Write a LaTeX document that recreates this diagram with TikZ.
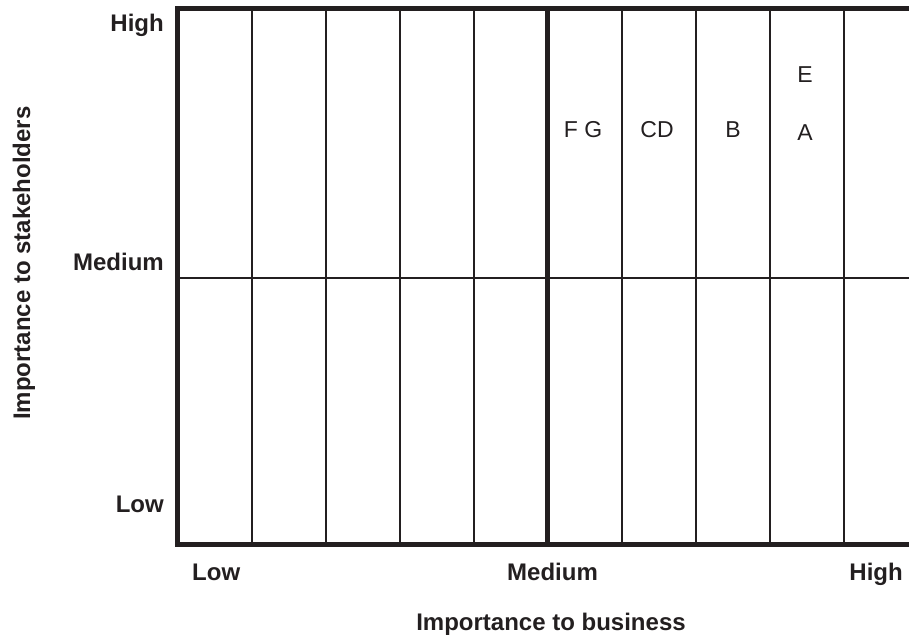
\documentclass[tikz,border=0pt]{standalone}
\usepackage{fontspec}
\setmainfont{Liberation Sans}
\definecolor{ink}{HTML}{231F20}

\begin{document}
\begin{tikzpicture}[x=1pt,y=-1pt,
  axislabel/.style={inner sep=0pt,text=ink,font=\fontsize{24}{28}\selectfont\bfseries},
  item/.style={inner sep=0pt,anchor=base,text=ink,font=\fontsize{23}{27}\selectfont},
  thin line/.style={draw=ink,line width=2pt},
  thick line/.style={draw=ink,line width=5pt}]
\useasboundingbox (0,0) rectangle (909,639);
% columns and the medium row
\foreach \c in {1,...,9} \draw[thin line] (177.5+74*\c,8.5) -- (177.5+74*\c,544.5);
\draw[thin line] (177.5,278) -- (915,278);
\draw[draw=ink,line width=4.5pt] (547.5,8.5) -- (547.5,544.5);
\draw[thick line,line join=miter] (915,8.5) -- (177.5,8.5) -- (177.5,544.5) -- (915,544.5);
% stakeholder axis
\node[axislabel,anchor=base east] (yhigh) at (164,32) {High};
\node[axislabel,anchor=base east] (ymed) at (164,270) {Medium};
\node[axislabel,anchor=base east] (ylow) at (164,512) {Low};
\node[axislabel,anchor=base,rotate=90] (ylab) at (30,263) {Importance to stakeholders};
% business axis
\node[axislabel,anchor=base west] (xlow) at (192,580) {Low};
\node[axislabel,anchor=base] (xmed) at (552.5,580) {Medium};
\node[axislabel,anchor=base east] (xhigh) at (903,580) {High};
\node[axislabel,anchor=base] (xlab) at (551,630) {Importance to business};
% items
\node[item] (fg) at (583,138) {F G};
\node[item] (cd) at (657,138) {CD};
\node[item] (b) at (733,138) {B};
\node[item] (e) at (805,83) {E};
\node[item] (a) at (805,141) {A};
\end{tikzpicture}
\end{document}
